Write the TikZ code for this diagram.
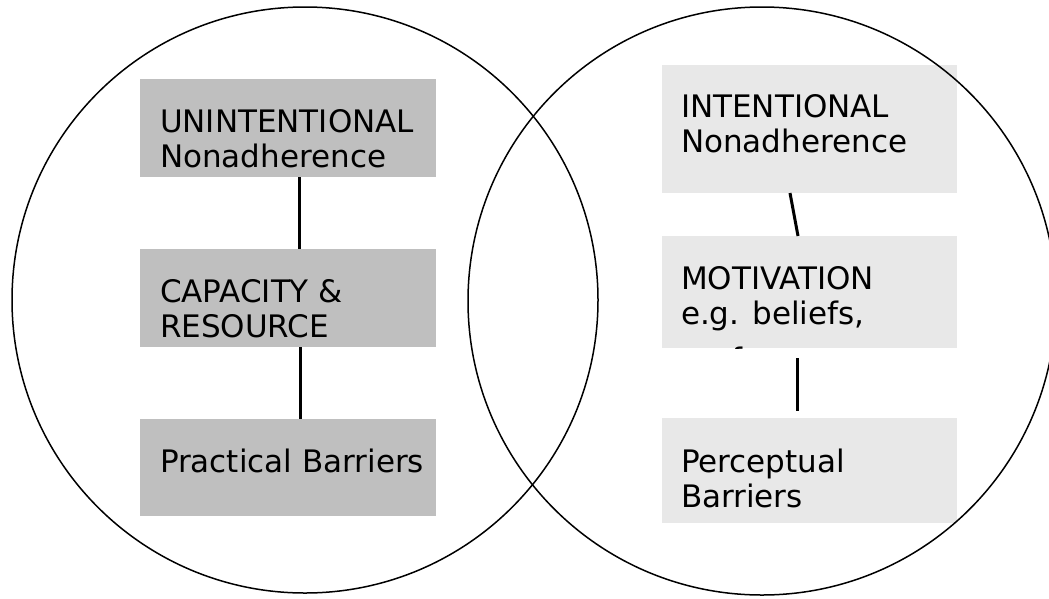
\documentclass[tikz,border=0pt]{standalone}
\usepackage{fontspec}
\setmainfont{DejaVu Sans}
\definecolor{darkbox}{HTML}{BFBFBF}
\definecolor{lightbox}{HTML}{E8E8E8}
\begin{document}
\begin{tikzpicture}[x=1pt,y=-1pt,
  darkfill/.style={fill=darkbox,draw=none,inner sep=0,outer sep=0},
  lightfill/.style={fill=lightbox,draw=none,inner sep=0,outer sep=0},
  label/.style={anchor=base west,inner sep=0,outer sep=0,font=\fontsize{31}{35}\selectfont},
  link/.style={line width=3pt},
  ring/.style={line width=1.5pt}]
\useasboundingbox (0,0) rectangle (1049,598);
% left boxes
\node[darkfill,minimum width=296pt,minimum height=98pt] (b1) at (288,128) {};
\node[darkfill,minimum width=296pt,minimum height=98pt] (b2) at (288,298) {};
\node[darkfill,minimum width=296pt,minimum height=97pt] (b3) at (288,467.5) {};
% right boxes
\node[lightfill,minimum width=295pt,minimum height=128pt] (r1) at (809.5,129) {};
\node[lightfill,minimum width=295pt,minimum height=112pt] (r2) at (809.5,292) {};
\node[lightfill,minimum width=295pt,minimum height=105pt] (r3) at (809.5,470.5) {};
% texts
\node[label] (t1a) at (160,132) {UNINTENTIONAL};
\node[label] (t1b) at (160,167) {Nonadherence};
\node[label] (t2a) at (160,302) {CAPACITY \&};
\node[label] (t2b) at (160,337) {RESOURCE};
\node[label] (t3a) at (160,472) {Practical Barriers};
\node[label] (u1a) at (681,117) {INTENTIONAL};
\node[label] (u1b) at (681,152) {Nonadherence};
\begin{scope}
\clip (r2.north west) rectangle (r2.south east);
\node[label] (u2a) at (681,289) {MOTIVATION};
\node[label] (u2b) at (681,324) {e.g. beliefs,};
\node[label] (u2c) at (681,370) {preferences};
\end{scope}
\node[label] (u3a) at (681,472) {Perceptual};
\node[label] (u3b) at (681,507) {Barriers};
% connectors
\draw[link] ([xshift=11pt]b1.south) -- ([xshift=11pt]b2.north);
\draw[link] ([xshift=12pt]b2.south) -- ([xshift=12pt]b3.north);
\draw[link] ([xshift=-19.5pt]r1.south) -- ([xshift=-11.5pt]r2.north);
\draw[link] ([xshift=-12.5pt,yshift=-10pt]r2.south) -- ([xshift=-12.5pt,yshift=7pt]r3.north);
% circles
\draw[ring] (305,300) circle (293);
\draw[ring] (762,301) circle (294);
\end{tikzpicture}
\end{document}
